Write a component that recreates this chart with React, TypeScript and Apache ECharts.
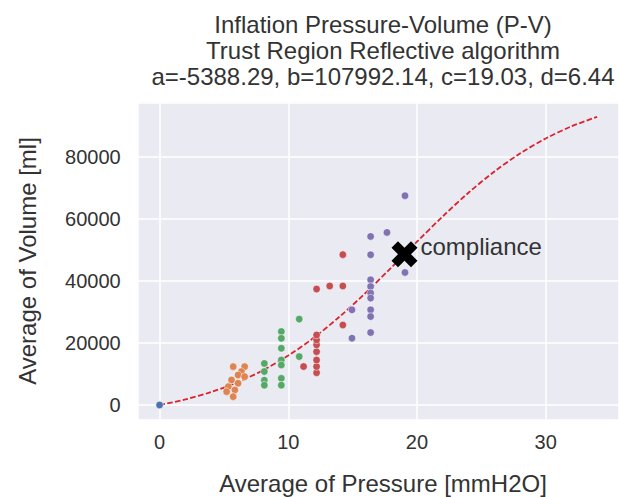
import React, { useEffect, useRef } from "react";
import * as echarts from "echarts";

// ---- data ----
const titleLines = [
  "Inflation Pressure-Volume (P-V)",
  "Trust Region Reflective algorithm",
  "a=-5388.29, b=107992.14, c=19.03, d=6.44",
];
const xAxisTitle = "Average of Pressure [mmH2O]";
const yAxisTitle = "Average of Volume [ml]";

const bluePressure = [0];
const blueVolume = [0];

const orangePressure = [5.72, 6.61, 6.36, 6.1, 6.61, 5.59, 6.1, 5.34, 5.85, 5.21, 5.72];
const orangeVolume = [12370, 12370, 10760, 9690, 9140, 8080, 7010, 5910, 4850, 4300, 2680];

const greenPressure = [8.14, 8.14, 8.14, 8.14, 9.46, 9.46, 9.46, 9.46, 9.46, 9.46, 9.46, 10.85, 10.85];
const greenVolume = [13400, 10800, 8000, 6400, 23700, 21500, 18300, 14500, 12900, 8600, 6400, 27700, 15600];

const redPressure = [11.19, 12.2, 12.2, 12.2, 12.2, 12.2, 12.2, 12.2, 12.2, 13.22, 14.24, 14.24, 14.24];
const redVolume = [12400, 10400, 12400, 14500, 17200, 19400, 21000, 22600, 37400, 38400, 38400, 48500, 25800];

const purplePressure = [16.4, 16.4, 16.4, 16.4, 16.4, 16.4, 16.4, 16.4, 16.4, 14.95, 14.95, 17.67, 19.07, 19.07, 19.07];
const purpleVolume = [54380, 48470, 40390, 38220, 36090, 34480, 30690, 28530, 23360, 30690, 21550, 55670, 67530, 42750, 48500];

const curvePressure = [0, 2, 4, 6, 8, 10, 12, 14, 16, 18, 20, 22, 24, 26, 28, 30, 32, 34];
const curveVolume = [-40, 1780, 4150, 7230, 11110, 15940, 21750, 28530, 36130, 44300, 52670, 60840, 68470, 75280, 81120, 85970, 89890, 92980];

const compliancePressure = 19.03;
const complianceVolume = 48608;
const complianceLabel = "compliance";

const groupColors = ["#4C72B0", "#DD8452", "#55A868", "#C44E52", "#8172B3"];

const zip = (a: number[], b: number[]) => a.map((x, i) => [x, b[i]]);

const FONT = "'Liberation Sans', Arial, sans-serif";
const TXT = "#333333";

export default function App() {
  const ref = useRef<HTMLDivElement>(null);
  useEffect(() => {
    if (!ref.current) return;
    const chart = echarts.init(ref.current, undefined, { renderer: "svg" });
    const groups = [
      zip(bluePressure, blueVolume),
      zip(orangePressure, orangeVolume),
      zip(greenPressure, greenVolume),
      zip(redPressure, redVolume),
      zip(purplePressure, purpleVolume),
    ];
    const scatterSeries = groups.map((d, i) => ({
      type: "scatter",
      data: d,
      symbolSize: 7.5,
      z: 3,
      itemStyle: { color: groupColors[i], borderColor: "#ffffff", borderWidth: 0.5, opacity: 1 },
    }));
    const option: any = {
      animation: false,
      textStyle: { fontFamily: FONT },
      grid: {
        left: 137.7,
        right: -9,
        top: 102.4,
        bottom: 77.5,
        show: true,
        backgroundColor: "#EAEAF2",
        borderWidth: 0,
      },
      xAxis: {
        type: "value",
        min: -1.7,
        max: 35.7,
        axisLine: { show: false },
        axisTick: { show: false },
        splitLine: { show: true, lineStyle: { color: "#ffffff", width: 1.5 } },
        axisLabel: {
          fontSize: 20,
          color: TXT,
          fontFamily: FONT,
          margin: 12,
          showMinLabel: false,
          showMaxLabel: false,
          formatter: (v: number) => (Math.abs(v % 10) < 1e-9 ? String(v) : ""),
        },
      },
      yAxis: {
        type: "value",
        min: -4690,
        max: 97630,
        axisLine: { show: false },
        axisTick: { show: false },
        splitLine: { show: true, lineStyle: { color: "#ffffff", width: 1.5 } },
        axisLabel: {
          fontSize: 20,
          color: TXT,
          fontFamily: FONT,
          margin: 17,
          showMinLabel: false,
          showMaxLabel: false,
          formatter: (v: number) => (Math.abs(v % 20000) < 1e-6 ? String(v) : ""),
        },
      },
      series: [
        {
          type: "line",
          data: zip(curvePressure, curveVolume),
          smooth: 0.3,
          showSymbol: false,
          z: 2,
          lineStyle: { color: "#d9242f", width: 1.8, type: [5.5, 2.4] },
        },
        ...scatterSeries,
        {
          type: "scatter",
          data: [[compliancePressure, complianceVolume]],
          symbol:
            "path://M-1,-0.5L-0.5,-1L0,-0.5L0.5,-1L1,-0.5L0.5,0L1,0.5L0.5,1L0,0.5L-0.5,1L-1,0.5L-0.5,0Z",
          symbolSize: 26,
          z: 5,
          itemStyle: { color: "#000000", opacity: 1 },
          label: {
            show: true,
            formatter: complianceLabel,
            position: [29, 5],
            align: "left",
            verticalAlign: "middle",
            fontSize: 24,
            color: TXT,
            fontFamily: FONT,
          },
        },
      ],
      graphic: [
        ...titleLines.map((t, i) => ({
          type: "text",
          x: 383,
          y: 24.5 + i * 26,
          style: {
            text: t,
            fill: TXT,
            fontSize: 24,
            fontFamily: FONT,
            textAlign: "center",
            textVerticalAlign: "middle",
          },
        })),
        {
          type: "text",
          x: 383,
          y: 483,
          style: {
            text: xAxisTitle,
            fill: TXT,
            fontSize: 24,
            fontFamily: FONT,
            textAlign: "center",
            textVerticalAlign: "middle",
          },
        },
        {
          type: "text",
          x: 27,
          y: 261,
          rotation: Math.PI / 2,
          style: {
            text: yAxisTitle,
            fill: TXT,
            fontSize: 24,
            fontFamily: FONT,
            textAlign: "center",
            textVerticalAlign: "middle",
          },
        },
      ],
    };
    chart.setOption(option);
    return () => chart.dispose();
  }, []);
  return <div ref={ref} style={{ width: 619, height: 497, position: "absolute", left: 0, top: 0 }} />;
}
